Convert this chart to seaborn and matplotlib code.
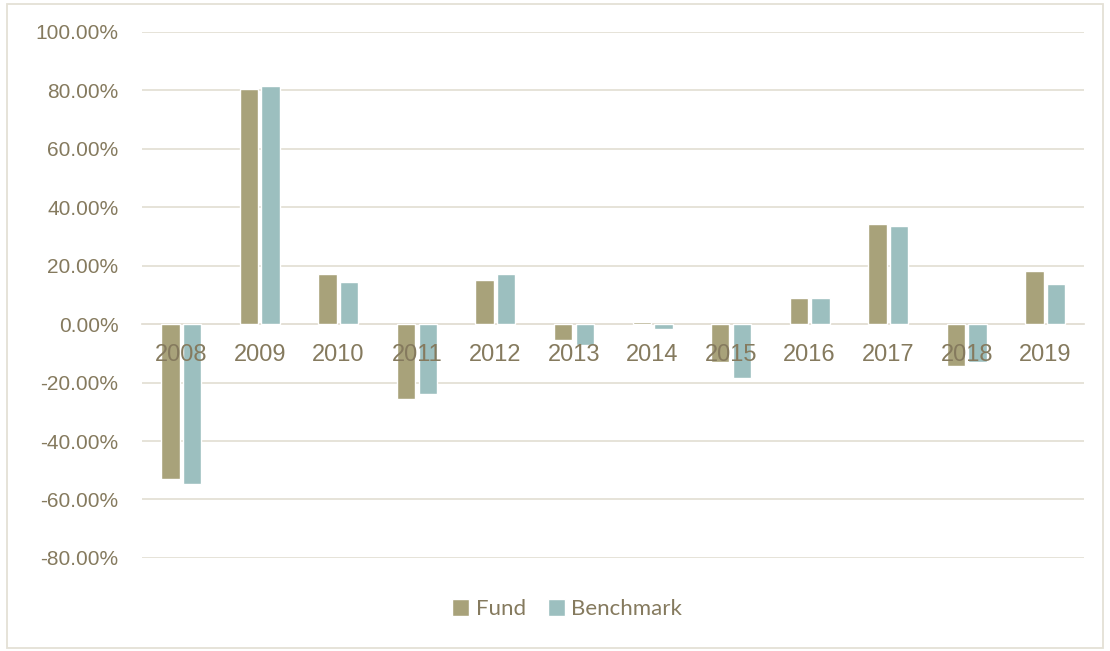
import pandas as pd
import matplotlib.pyplot as plt
import seaborn as sns
from matplotlib.patches import Rectangle
from matplotlib.ticker import FuncFormatter

years = ["2008", "2009", "2010", "2011", "2012", "2013", "2014", "2015", "2016", "2017", "2018", "2019"]
fund = [-53.0, 80.5, 17.1, -25.7, 15.1, -5.5, 0.6, -13.0, 8.9, 34.2, -14.4, 18.2]
benchmark = [-54.8, 81.5, 14.4, -24.0, 17.1, -7.2, -1.5, -18.5, 8.9, 33.6, -13.0, 13.7]

df = pd.DataFrame({"year": years * 2,
                   "value": fund + benchmark,
                   "series": ["Fund"] * len(years) + ["Benchmark"] * len(years)})

text_color = "#857A5E"
grid_color = "#E4E0D6"

sns.set_style("white")
plt.rcParams["font.family"] = ["Liberation Sans", "DejaVu Sans"]

fig = plt.figure(figsize=(11.1, 6.51), dpi=100)
ax = fig.add_axes([0.128, 0.143, 0.849, 0.808])

sns.barplot(data=df, x="year", y="value", hue="series",
            palette={"Fund": "#A8A27A", "Benchmark": "#9CBFBF"},
            width=0.55, gap=0.15, saturation=1, errorbar=None, ax=ax)

ax.set_ylim(-80, 100)
ax.set_xlim(-0.5, 11.5)
ax.set_yticks(range(-80, 101, 20))
ax.yaxis.set_major_formatter(FuncFormatter(lambda v, p: f"{v:.2f}%"))
ax.yaxis.grid(True, color=grid_color, lw=1.3)
ax.set_axisbelow(True)
# year labels sit on top of the bars
ax.xaxis.set_zorder(3)

for s in ["top", "right", "left"]:
    ax.spines[s].set_visible(False)
ax.spines["bottom"].set_position(("data", 0))
ax.spines["bottom"].set_color(grid_color)
ax.spines["bottom"].set_linewidth(1.3)
ax.spines["bottom"].set_zorder(0.5)

ax.tick_params(axis="x", length=0, pad=14, labelsize=17, labelcolor=text_color)
ax.tick_params(axis="y", length=0, pad=17, labelsize=15, labelcolor=text_color)
ax.set_xlabel("")
ax.set_ylabel("")

handles, labels = ax.get_legend_handles_labels()
ax.legend(handles, labels, loc="center", bbox_to_anchor=(0.511, 0.064),
          bbox_transform=fig.transFigure, ncol=2, frameon=False,
          handlelength=0.75, handleheight=0.75, handletextpad=0.3,
          columnspacing=1.0, prop={"family": ["Lato", "DejaVu Sans"], "size": 16},
          labelcolor=text_color)

fig.patches.append(Rectangle((0.006, 0.004), 0.988, 0.99, transform=fig.transFigure,
                             fill=False, edgecolor=grid_color, lw=1.3))

fig.savefig("out.png", dpi=100)
